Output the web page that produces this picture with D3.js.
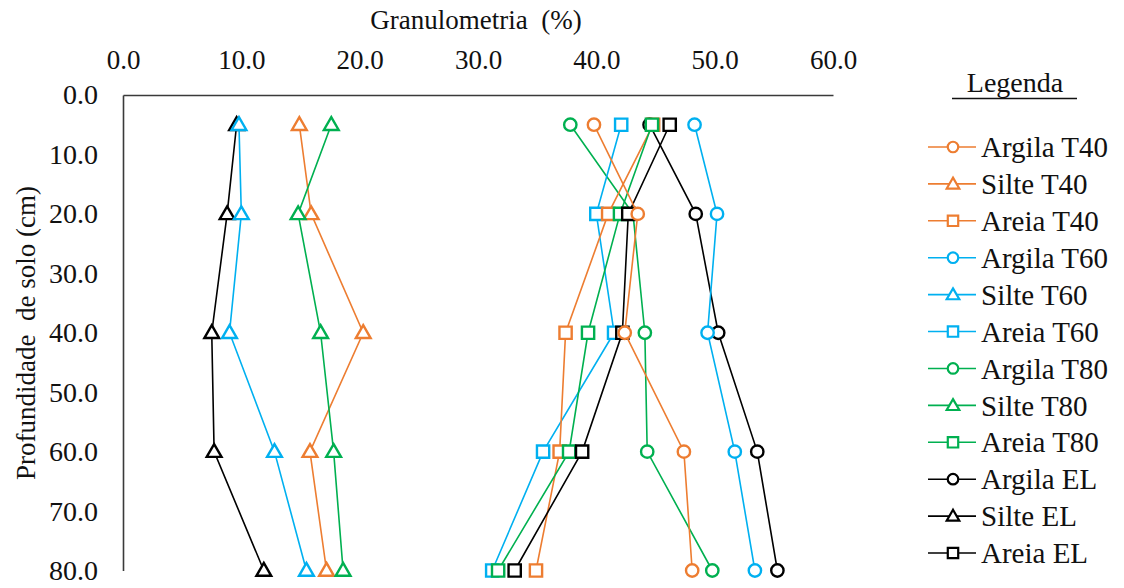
<!DOCTYPE html>
<html>
<head>
<meta charset="utf-8">
<script src="https://cdn.jsdelivr.net/npm/d3@7"></script>
<style>
  html, body { margin: 0; padding: 0; background: #fff; }
  svg { display: block; }
</style>
</head>
<body>
<svg id="chart" width="1124" height="588"></svg>
<script>
// Soil depth (cm) at which each sample was taken
const depths = [5, 20, 40, 60, 80];

// Particle-size fractions (%) per treatment
const argilaT40 = [39.8, 43.5, 42.4, 47.4, 48.1];
const silteT40  = [14.9, 15.9, 20.3, 15.8, 17.2];
const areiaT40  = [44.8, 41.0, 37.4, 36.9, 34.9];

const argilaT60 = [48.3, 50.2, 49.4, 51.7, 53.4];
const silteT60  = [9.8, 10.0, 9.0, 12.8, 15.5];
const areiaT60  = [42.1, 40.0, 41.5, 35.5, 31.2];

const argilaT80 = [37.8, 43.1, 44.1, 44.3, 49.8];
const silteT80  = [17.6, 14.8, 16.7, 17.8, 18.6];
const areiaT80  = [44.7, 42.0, 39.3, 37.7, 31.7];

const argilaEL  = [44.5, 48.4, 50.3, 53.6, 55.3];
const silteEL   = [9.6, 8.8, 7.5, 7.7, 11.9];
const areiaEL   = [46.2, 42.7, 42.2, 38.8, 33.1];

// Axis ticks
const xTicks = [0, 10, 20, 30, 40, 50, 60];
const yTicks = [0, 10, 20, 30, 40, 50, 60, 70, 80];

// Legend order
const seriesNames = [
  "Argila T40", "Silte T40", "Areia T40",
  "Argila T60", "Silte T60", "Areia T60",
  "Argila T80", "Silte T80", "Areia T80",
  "Argila EL", "Silte EL", "Areia EL"
];
const seriesValues = [
  argilaT40, silteT40, areiaT40,
  argilaT60, silteT60, areiaT60,
  argilaT80, silteT80, areiaT80,
  argilaEL, silteEL, areiaEL
];
// Stacking order of the series in the plot (first drawn is lowest)
const drawOrder = [
  "Argila EL", "Argila T80", "Argila T60",
  "Silte EL", "Silte T60", "Silte T40", "Silte T80",
  "Areia T60", "Areia T40", "Areia T80", "Areia EL",
  "Argila T40"
];

const treatmentColor = { T40: "#ED7D31", T60: "#00B0F0", T80: "#00B050", EL: "#000000" };
const fractionShape = { Argila: "circle", Silte: "triangle", Areia: "square" };

const series = seriesNames.map((name, i) => {
  const [fraction, treat] = name.split(" ");
  return {
    name,
    color: treatmentColor[treat],
    shape: fractionShape[fraction],
    points: depths.map((d, j) => ({ depth: d, value: seriesValues[i][j] }))
  };
});
const byName = new Map(series.map(s => [s.name, s]));

const FONT = "Liberation Serif";
const TEXT = "#111";

const svg = d3.select("#chart").attr("font-family", FONT);
const plot = { left: 123, right: 833, top: 95, bottom: 570.5 };

const x = d3.scaleLinear().domain([0, 60]).range([plot.left, plot.right]);
const y = d3.scaleLinear().domain([0, 80]).range([plot.top, plot.bottom]);

// Top axis (percent)
const xAxis = d3.axisTop(x).tickValues(xTicks).tickFormat(d3.format(".1f")).tickSize(0).tickPadding(26);
const gx = svg.append("g").attr("transform", `translate(0,${plot.top})`).call(xAxis);
gx.attr("font-family", FONT);
gx.select(".domain").attr("stroke", "#3a3a3a").attr("stroke-width", 1.6);
gx.selectAll("text").attr("font-size", 27).attr("fill", TEXT).attr("font-family", FONT);

// Left axis (depth)
const yAxis = d3.axisLeft(y).tickValues(yTicks).tickFormat(d3.format(".1f")).tickSize(0).tickPadding(25);
const gy = svg.append("g").attr("transform", `translate(${plot.left},0)`).call(yAxis);
gy.attr("font-family", FONT);
gy.select(".domain").attr("stroke", "#3a3a3a").attr("stroke-width", 1.6);
gy.selectAll("text").attr("font-size", 28).attr("fill", TEXT).attr("font-family", FONT);

// Axis titles
svg.append("text")
  .attr("x", 476).attr("y", 29)
  .attr("text-anchor", "middle")
  .attr("font-family", FONT)
  .attr("font-size", 27)
  .attr("fill", TEXT)
  .attr("xml:space", "preserve")
  .text("Granulometria  (%)");

svg.append("text")
  .attr("transform", "translate(35,333) rotate(-90)")
  .attr("text-anchor", "middle")
  .attr("font-family", FONT)
  .attr("font-size", 27)
  .attr("fill", TEXT)
  .attr("xml:space", "preserve")
  .text("Profundidade  de solo (cm)");

// Marker symbols
const symbolFor = (shape, scale) => {
  const s = scale || 1;
  if (shape === "circle") return d3.symbol().type(d3.symbolCircle).size(120 * s * s)();
  if (shape === "square") return d3.symbol().type(d3.symbolSquare).size(150 * s * s)();
  return d3.symbol().type(d3.symbolTriangle).size(95 * s * s)();
};

const line = d3.line().x(d => x(d.value)).y(d => y(d.depth));

const gSeries = svg.append("g");
drawOrder.forEach(name => {
  const s = byName.get(name);
  const g = gSeries.append("g");
  g.append("path")
    .attr("d", line(s.points))
    .attr("fill", "none")
    .attr("stroke", s.color)
    .attr("stroke-width", 1.6);
  g.selectAll("path.marker")
    .data(s.points)
    .join("path")
    .attr("class", "marker")
    .attr("transform", d => `translate(${x(d.value)},${y(d.depth) + (s.shape === "triangle" ? 1 : 0)})`)
    .attr("d", symbolFor(s.shape))
    .attr("fill", "#fff")
    .attr("stroke", s.color)
    .attr("stroke-width", 2.4);
});

// Legend
const legend = svg.append("g").attr("font-family", FONT);
legend.append("text")
  .attr("x", 1015).attr("y", 92)
  .attr("text-anchor", "middle")
  .attr("font-family", FONT)
  .attr("font-size", 28)
  .attr("fill", TEXT)
  .text("Legenda");
legend.append("line")
  .attr("x1", 952).attr("x2", 1077)
  .attr("y1", 98.5).attr("y2", 98.5)
  .attr("stroke", TEXT).attr("stroke-width", 1.4);

const legendY = d3.scalePoint().domain(seriesNames).range([147, 553]);
series.forEach(s => {
  const cy = legendY(s.name);
  const item = legend.append("g").attr("transform", `translate(0,${cy})`);
  item.append("line")
    .attr("x1", 928).attr("x2", 976)
    .attr("stroke", s.color).attr("stroke-width", 1.6);
  item.append("path")
    .attr("transform", `translate(953,${s.shape === "triangle" ? 1 : 0})`)
    .attr("d", symbolFor(s.shape, 0.85))
    .attr("fill", "#fff")
    .attr("stroke", s.color)
    .attr("stroke-width", 2.2);
  item.append("text")
    .attr("x", 981).attr("dy", "0.35em")
    .attr("font-family", FONT)
    .attr("font-size", 29)
    .attr("fill", TEXT)
    .text(s.name);
});
</script>
</body>
</html>
